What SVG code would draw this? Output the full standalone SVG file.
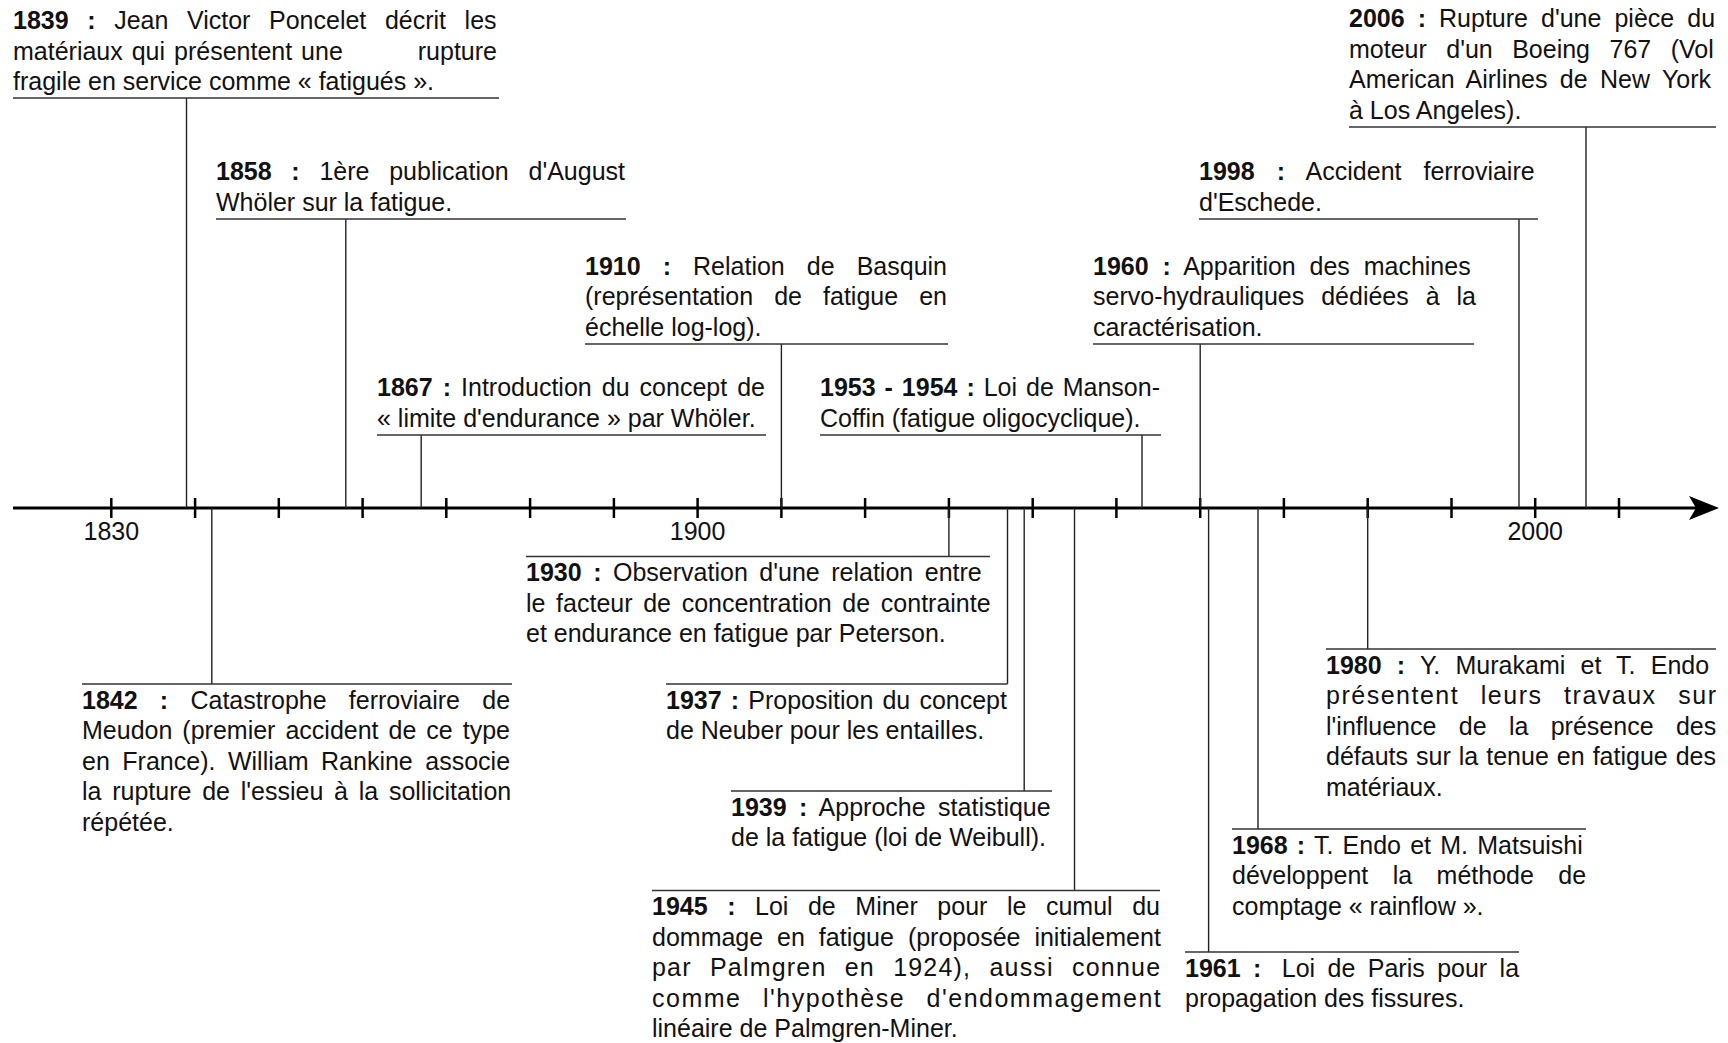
<svg xmlns="http://www.w3.org/2000/svg" width="1728" height="1043" viewBox="0 0 1728 1043">
<style>
text{font-family:"Liberation Sans",Arial,Helvetica,sans-serif;font-size:25px;fill:#111}
.b{font-weight:bold}
.ul{stroke:#333;stroke-width:1.6}
.stem{stroke:#222;stroke-width:1.4}
.tick{stroke:#000;stroke-width:2.5}
.axis{stroke:#000;stroke-width:3}
.lab{text-anchor:middle}
</style>
<rect width="1728" height="1043" fill="#fff"/>

<g id="axis">
<line class="axis" x1="13" y1="508" x2="1700" y2="508"/>
<path d="M1719,508 L1689,496 L1696,508 L1689,520 Z" fill="#000"/>
<g class="tick">
<line x1="111.3" y1="498" x2="111.3" y2="518"/><line x1="195.1" y1="498" x2="195.1" y2="518"/>
<line x1="278.8" y1="498" x2="278.8" y2="518"/><line x1="362.6" y1="498" x2="362.6" y2="518"/>
<line x1="446.3" y1="498" x2="446.3" y2="518"/><line x1="530.1" y1="498" x2="530.1" y2="518"/>
<line x1="613.9" y1="498" x2="613.9" y2="518"/><line x1="697.6" y1="498" x2="697.6" y2="518"/>
<line x1="781.4" y1="498" x2="781.4" y2="518"/><line x1="865.1" y1="498" x2="865.1" y2="518"/>
<line x1="948.9" y1="498" x2="948.9" y2="518"/><line x1="1032.7" y1="498" x2="1032.7" y2="518"/>
<line x1="1116.4" y1="498" x2="1116.4" y2="518"/><line x1="1200.2" y1="498" x2="1200.2" y2="518"/>
<line x1="1283.9" y1="498" x2="1283.9" y2="518"/><line x1="1367.7" y1="498" x2="1367.7" y2="518"/>
<line x1="1451.5" y1="498" x2="1451.5" y2="518"/><line x1="1535.2" y1="498" x2="1535.2" y2="518"/>
<line x1="1619" y1="498" x2="1619" y2="518"/>
</g>
<text class="lab" x="111.3" y="540">1830</text>
<text class="lab" x="697.6" y="540">1900</text>
<text class="lab" x="1535.2" y="540">2000</text>
</g>

<g id="connectors">
<line class="stem" x1="186.5" y1="98" x2="186.5" y2="508"/>
<line class="stem" x1="345.8" y1="219" x2="345.8" y2="508"/>
<line class="stem" x1="781.4" y1="344" x2="781.4" y2="508"/>
<line class="stem" x1="421.2" y1="435" x2="421.2" y2="508"/>
<line class="stem" x1="1142" y1="435" x2="1142" y2="508"/>
<line class="stem" x1="1200.2" y1="344" x2="1200.2" y2="508"/>
<line class="stem" x1="1519" y1="219" x2="1519" y2="508"/>
<line class="stem" x1="1586" y1="127" x2="1586" y2="508"/>
<line class="stem" x1="211.8" y1="508" x2="211.8" y2="684"/>
<line class="stem" x1="948.9" y1="508" x2="948.9" y2="556.5"/>
<line class="stem" x1="1007.5" y1="508" x2="1007.5" y2="684"/>
<line class="stem" x1="1024.2" y1="508" x2="1024.2" y2="791"/>
<line class="stem" x1="1074.5" y1="508" x2="1074.5" y2="890.5"/>
<line class="stem" x1="1208.6" y1="508" x2="1208.6" y2="952"/>
<line class="stem" x1="1258" y1="508" x2="1258" y2="829"/>
<line class="stem" x1="1367.7" y1="508" x2="1367.7" y2="649"/>
</g>

<g id="e1839">
<text x="13" y="29" word-spacing="11.65"><tspan class="b">1839 :</tspan> Jean Victor Poncelet décrit les</text>
<text x="13" y="59.5" word-spacing="2">matériaux qui présentent une<tspan x="497" text-anchor="end">rupture</tspan></text>
<text x="13" y="90">fragile en service comme « fatigués ».</text>
<line class="ul" x1="13" y1="98" x2="499" y2="98"/>
</g>

<g id="e1858">
<text x="216" y="180.4" word-spacing="12.8"><tspan class="b">1858 :</tspan> 1ère publication d'August</text>
<text x="216" y="211">Whöler sur la fatigue.</text>
<line class="ul" x1="216" y1="219" x2="626" y2="219"/>
</g>

<g id="e1910">
<text x="585" y="274.8" word-spacing="15.1"><tspan class="b">1910 :</tspan> Relation de Basquin</text>
<text x="585" y="305.4" word-spacing="14.1">(représentation de fatigue en</text>
<text x="585" y="336">échelle log-log).</text>
<line class="ul" x1="585" y1="344" x2="948" y2="344"/>
</g>

<g id="e1867">
<text x="377" y="396.4" word-spacing="3.1"><tspan class="b">1867 :</tspan> Introduction du concept de</text>
<text x="377" y="427">« limite d'endurance » par Whöler.</text>
<line class="ul" x1="377" y1="435" x2="766" y2="435"/>
</g>

<g id="e1953">
<text x="820" y="396.4" word-spacing="2"><tspan class="b">1953 - 1954 :</tspan> Loi de Manson-</text>
<text x="820" y="427">Coffin (fatigue oligocyclique).</text>
<line class="ul" x1="820" y1="435" x2="1161" y2="435"/>
</g>

<g id="e1960">
<text x="1093" y="274.8" word-spacing="6.86"><tspan class="b">1960 :</tspan> Apparition des machines</text>
<text x="1093" y="305.4" word-spacing="10">servo-hydrauliques dédiées à la</text>
<text x="1093" y="336">caractérisation.</text>
<line class="ul" x1="1093" y1="344" x2="1474" y2="344"/>
</g>

<g id="e1998">
<text x="1199" y="180.4" word-spacing="15.07"><tspan class="b">1998 :</tspan> Accident ferroviaire</text>
<text x="1199" y="211">d'Eschede.</text>
<line class="ul" x1="1199" y1="219" x2="1538" y2="219"/>
</g>

<g id="e2006">
<text x="1349" y="27.2" word-spacing="6.1"><tspan class="b">2006 :</tspan> Rupture d'une pièce du</text>
<text x="1349" y="57.8" word-spacing="12.5">moteur d'un Boeing 767 (Vol</text>
<text x="1349" y="88.4" word-spacing="5.4">American Airlines de New York</text>
<text x="1349" y="119">à Los Angeles).</text>
<line class="ul" x1="1349" y1="127" x2="1716" y2="127"/>
</g>

<g id="e1930">
<line class="ul" x1="526" y1="556.5" x2="990" y2="556.5"/>
<text x="526" y="581" word-spacing="4.58"><tspan class="b">1930 :</tspan> Observation d'une relation entre</text>
<text x="526" y="611.6" word-spacing="3.7">le facteur de concentration de contrainte</text>
<text x="526" y="642.2">et endurance en fatigue par Peterson.</text>
</g>

<g id="e1842">
<line class="ul" x1="82" y1="684" x2="512" y2="684"/>
<text x="82" y="708.5" word-spacing="15.3"><tspan class="b">1842 :</tspan> Catastrophe ferroviaire de</text>
<text x="82" y="739.1" word-spacing="3.06">Meudon (premier accident de ce type</text>
<text x="82" y="769.7" word-spacing="5.59">en France). William Rankine associe</text>
<text x="82" y="800.3" word-spacing="3.8">la rupture de l'essieu à la sollicitation</text>
<text x="82" y="830.9">répétée.</text>
</g>

<g id="e1937">
<line class="ul" x1="666" y1="684" x2="1007.5" y2="684"/>
<text x="666" y="708.5" word-spacing="2.2"><tspan class="b">1937 :</tspan> Proposition du concept</text>
<text x="666" y="739.1">de Neuber pour les entailles.</text>
</g>

<g id="e1939">
<line class="ul" x1="731" y1="791" x2="1052" y2="791"/>
<text x="731" y="815.5" word-spacing="5.56"><tspan class="b">1939 :</tspan> Approche statistique</text>
<text x="731" y="846.1">de la fatigue (loi de Weibull).</text>
</g>

<g id="e1945">
<line class="ul" x1="652" y1="890.5" x2="1160" y2="890.5"/>
<text x="652" y="915" word-spacing="12.6"><tspan class="b">1945 :</tspan> Loi de Miner pour le cumul du</text>
<text x="652" y="945.6" word-spacing="7">dommage en fatigue (proposée initialement</text>
<text x="652" y="976.2" letter-spacing="1.2" word-spacing="10.06">par Palmgren en 1924), aussi connue</text>
<text x="652" y="1006.8" letter-spacing="1.5" word-spacing="13">comme l'hypothèse d'endommagement</text>
<text x="652" y="1037.4">linéaire de Palmgren-Miner.</text>
</g>

<g id="e1961">
<line class="ul" x1="1185" y1="952" x2="1519" y2="952"/>
<text x="1185" y="976.5" word-spacing="5.47"><tspan class="b">1961 :</tspan><tspan dx="8"> Loi de Paris pour la</tspan></text>
<text x="1185" y="1007.1">propagation des fissures.</text>
</g>

<g id="e1968">
<line class="ul" x1="1232" y1="829" x2="1586" y2="829"/>
<text x="1232" y="853.5" word-spacing="2.27"><tspan class="b">1968 :</tspan> T. Endo et M. Matsuishi</text>
<text x="1232" y="884.1" word-spacing="17.5">développent la méthode de</text>
<text x="1232" y="914.7">comptage « rainflow ».</text>
</g>

<g id="e1980">
<line class="ul" x1="1326" y1="649" x2="1716" y2="649"/>
<text x="1326" y="673.5" word-spacing="8.27"><tspan class="b">1980 :</tspan> Y. Murakami et T. Endo</text>
<text x="1326" y="704.1" letter-spacing="1.5" word-spacing="13.2">présentent leurs travaux sur</text>
<text x="1326" y="734.7" word-spacing="15.4">l'influence de la présence des</text>
<text x="1326" y="765.3" word-spacing="1.07">défauts sur la tenue en fatigue des</text>
<text x="1326" y="795.9">matériaux.</text>
</g>
</svg>
